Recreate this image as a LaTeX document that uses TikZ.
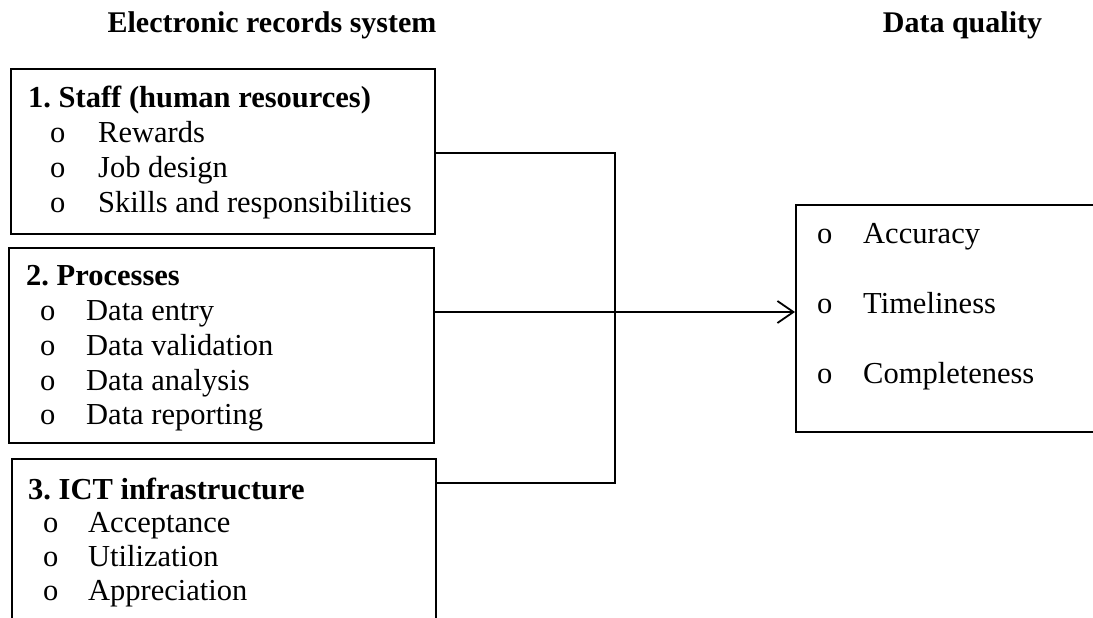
\documentclass[tikz,border=0pt]{standalone}
\usepackage{fontspec}
\setmainfont{Liberation Serif}
\usetikzlibrary{arrows.meta}
\frenchspacing
\tikzset{
  box/.style={draw=black, line width=2pt, rectangle, anchor=north west, inner sep=0pt},
  conn/.style={draw=black, line width=1.8pt},
  txt/.style={anchor=base west, inner sep=0pt, font=\fontsize{30.5}{35}\selectfont},
  head/.style={anchor=base, inner sep=0pt, font=\fontsize{30}{34}\selectfont\bfseries},
  boxtitle/.style={anchor=base west, inner sep=0pt, font=\fontsize{30.5}{35}\selectfont\bfseries},
}
\begin{document}
\begin{tikzpicture}[x=1pt,y=-1pt]
\useasboundingbox (0,0) rectangle (1093,618);
\clip (0,0) rectangle (1093,618);
\fill[white] (0,0) rectangle (1093,618);

% headings
\node[head] (h1) at (272,33) {Electronic records system};
\node[head] (h2) at (962.5,33) {Data quality};

% boxes
\node[box, minimum width=424pt, minimum height=165pt] (b1) at (10,68) {};
\node[box, minimum width=425pt, minimum height=195pt] (b2) at (8,247) {};
\node[box, minimum width=424pt, minimum height=200pt] (b3) at (11,458) {};
\node[box, minimum width=320pt, minimum height=227pt] (q) at (795,204) {};

% box 1
\node[boxtitle] (t1) at (28,107) {1. Staff (human resources)};
\node[txt] (b1o1) at (50,142) {o};  \node[txt] (b1i1) at (98,142) {Rewards};
\node[txt] (b1o2) at (50,177) {o};  \node[txt] (b1i2) at (98,177) {Job design};
\node[txt] (b1o3) at (50,212) {o};  \node[txt] (b1i3) at (98,212) {Skills and responsibilities};

% box 2
\node[boxtitle] (t2) at (26,285) {2. Processes};
\node[txt] (b2o1) at (40,320) {o};  \node[txt] (b2i1) at (86,320) {Data entry};
\node[txt] (b2o2) at (40,355) {o};  \node[txt] (b2i2) at (86,355) {Data validation};
\node[txt] (b2o3) at (40,390) {o};  \node[txt] (b2i3) at (86,390) {Data analysis};
\node[txt] (b2o4) at (40,424) {o};  \node[txt] (b2i4) at (86,424) {Data reporting};

% box 3
\node[boxtitle] (t3) at (28,499) {3. ICT infrastructure};
\node[txt] (b3o1) at (43,532) {o};  \node[txt] (b3i1) at (88,532) {Acceptance};
\node[txt] (b3o2) at (43,566) {o};  \node[txt] (b3i2) at (88,566) {Utilization};
\node[txt] (b3o3) at (43,600) {o};  \node[txt] (b3i3) at (88,600) {Appreciation};

% data quality box
\node[txt] (qo1) at (817,243) {o};  \node[txt] (qi1) at (863,243) {Accuracy};
\node[txt] (qo2) at (817,313) {o};  \node[txt] (qi2) at (863,313) {Timeliness};
\node[txt] (qo3) at (817,383) {o};  \node[txt] (qi3) at (863,383) {Completeness};

% connectors
\coordinate (j1) at (615,153);
\coordinate (j2) at (615,312);
\coordinate (j3) at (615,483);
\draw[conn] (b1.east |- j1) -- (j1) -- (j3) -- (b3.east |- j3);
\draw[conn, -{Straight Barb[length=16pt, width=22pt, line width=1.8pt]}] (b2.east |- j2) -- (q.west |- j2);
\end{tikzpicture}
\end{document}
